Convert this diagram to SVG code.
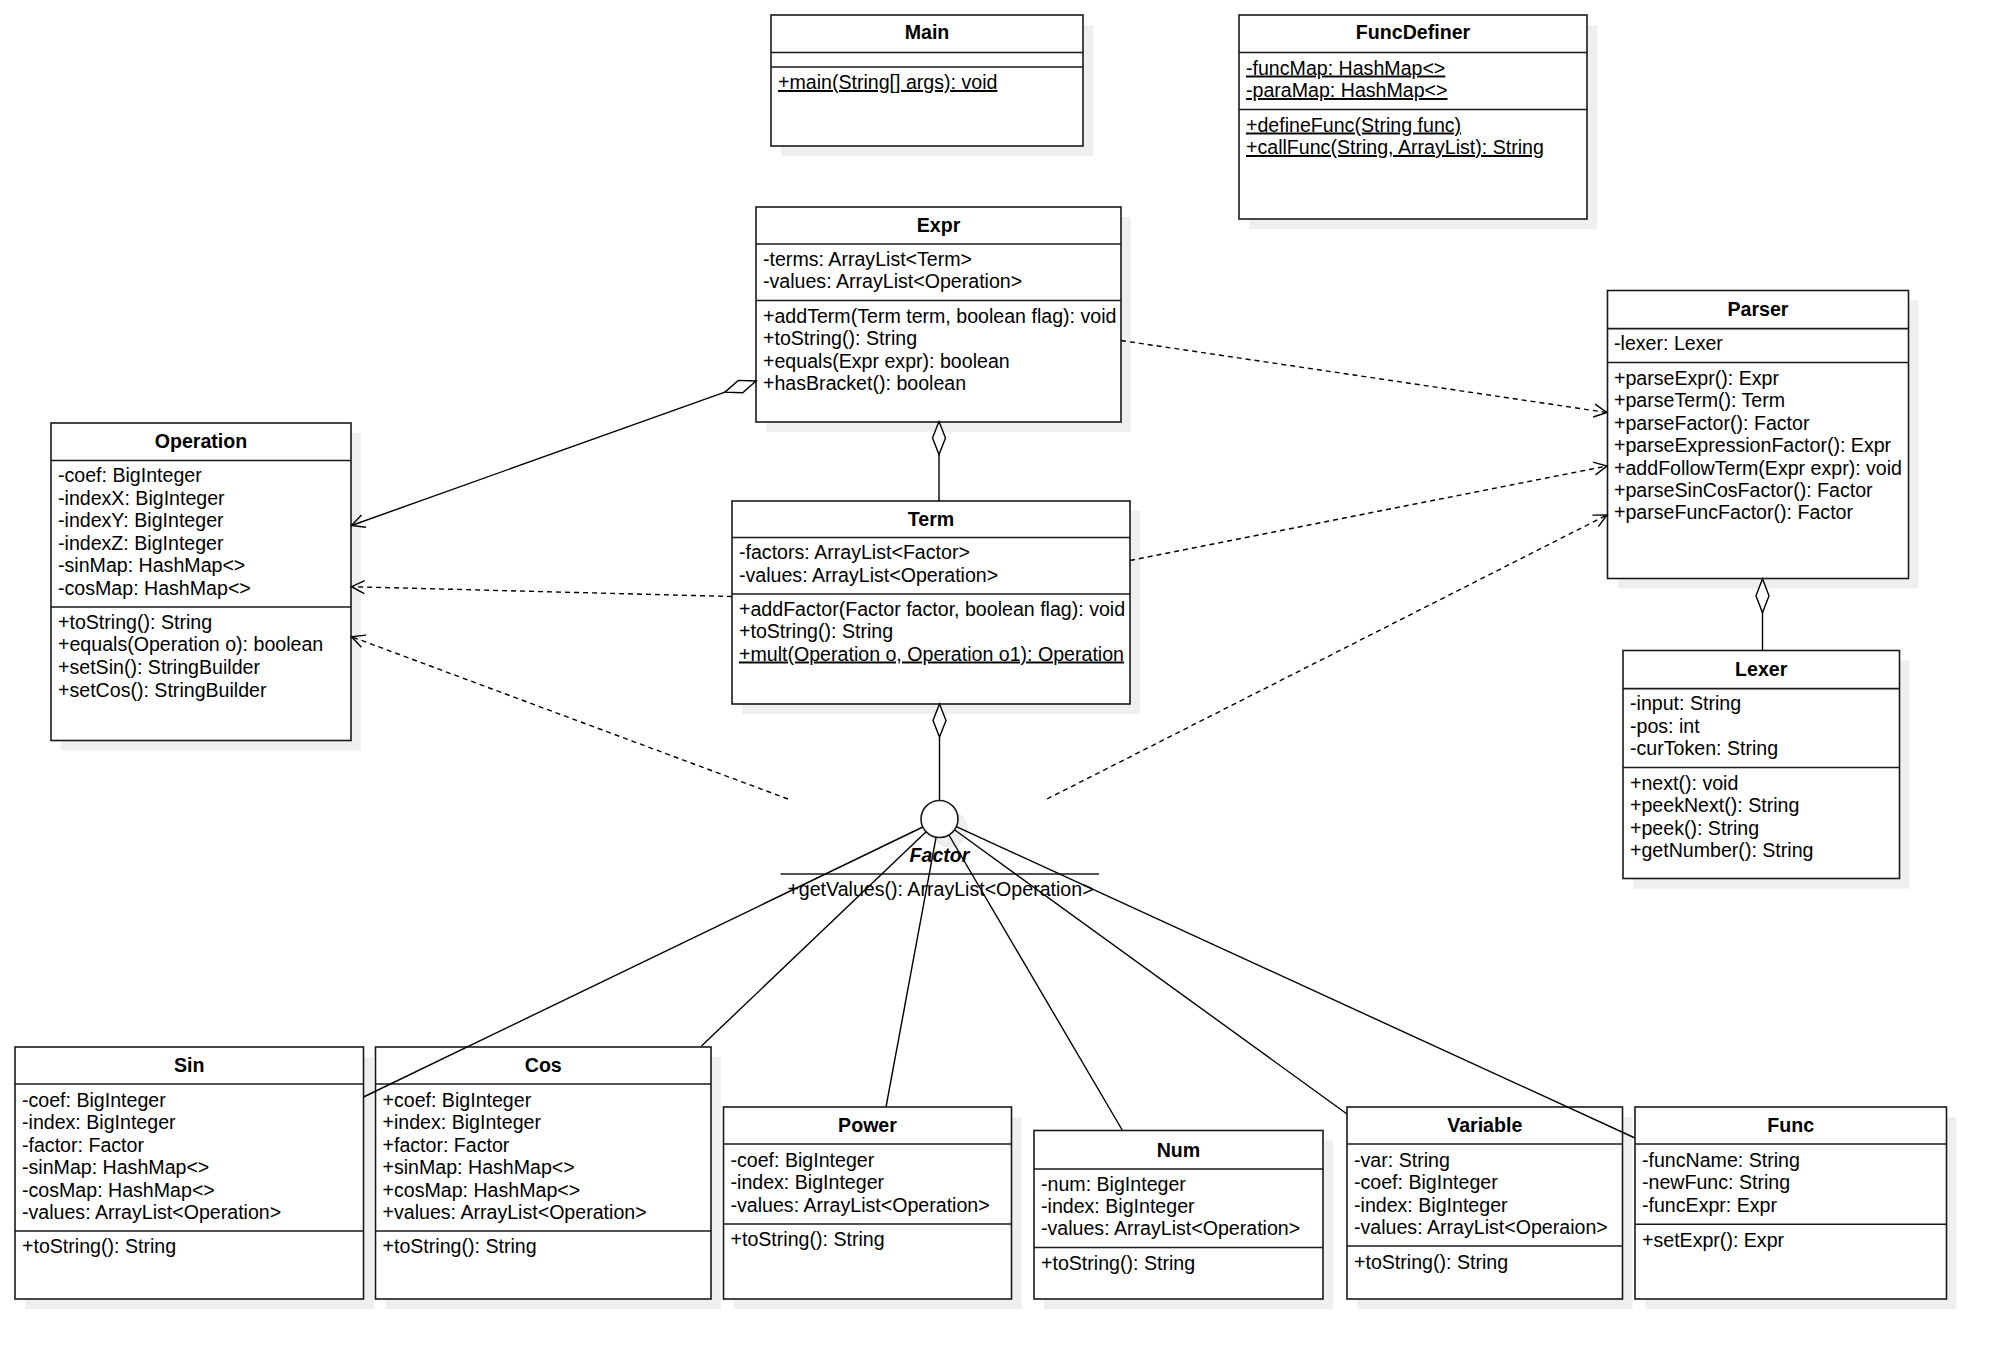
<svg xmlns="http://www.w3.org/2000/svg" width="2007" height="1359" viewBox="0 0 2007 1359">
<style>
.bg{fill:#fff}
.sh{fill:#efefef}
.box{fill:#fff;stroke:#1a1a1a;stroke-width:1.6}
.sep{fill:none;stroke:#1a1a1a;stroke-width:1.6}
.t{font-family:"Liberation Sans",Arial,sans-serif;font-size:19.6px;fill:#000}
.h{font-weight:bold;text-anchor:middle}
.u{text-decoration:underline;text-decoration-skip-ink:none}
.c{fill:none;stroke:#000;stroke-width:1.4}
.d{stroke-dasharray:5 4}
.dm{fill:#fff;stroke:#000;stroke-width:1.4}
</style>
<defs>
<marker id="open" viewBox="-15 -9 17 18" refX="0" refY="0" markerWidth="17" markerHeight="18" orient="auto" markerUnits="userSpaceOnUse">
<path d="M-13,-6.5 L0,0 L-13,6.5" fill="none" stroke="#000" stroke-width="1.4" stroke-dasharray="none"/>
</marker>
</defs>
<rect class="bg" x="0" y="0" width="2007" height="1359"/>

<g id="Main">
<rect class="sh" x="781" y="25" width="312" height="131"/>
<rect class="box" x="771" y="15" width="312" height="131"/>
<path class="sep" d="M771 52.5H1083M771 67H1083"/>
<text class="t h" x="927" y="39">Main</text>
<text class="t u" x="778" y="89">+main(String[] args): void</text>
</g>

<g id="FuncDefiner">
<rect class="sh" x="1249" y="25" width="348" height="204"/>
<rect class="box" x="1239" y="15" width="348" height="204"/>
<path class="sep" d="M1239 52.5H1587M1239 109.5H1587"/>
<text class="t h" x="1413" y="39">FuncDefiner</text>
<text class="t u" x="1246" y="74.5">-funcMap: HashMap&lt;&gt;</text>
<text class="t u" x="1246" y="97">-paraMap: HashMap&lt;&gt;</text>
<text class="t u" x="1246" y="131.5">+defineFunc(String func)</text>
<text class="t u" x="1246" y="154">+callFunc(String, ArrayList): String</text>
</g>

<g id="Expr">
<rect class="sh" x="766" y="217" width="365" height="215"/>
<rect class="box" x="756" y="207" width="365" height="215"/>
<path class="sep" d="M756 244H1121M756 300.5H1121"/>
<text class="t h" x="938.5" y="232">Expr</text>
<text class="t" x="763" y="265.5">-terms: ArrayList&lt;Term&gt;</text>
<text class="t" x="763" y="288">-values: ArrayList&lt;Operation&gt;</text>
<text class="t" x="763" y="322.5">+addTerm(Term term, boolean flag): void</text>
<text class="t" x="763" y="345">+toString(): String</text>
<text class="t" x="763" y="367.5">+equals(Expr expr): boolean</text>
<text class="t" x="763" y="390">+hasBracket(): boolean</text>
</g>

<g id="Operation">
<rect class="sh" x="61" y="433" width="300" height="317.5"/>
<rect class="box" x="51" y="423" width="300" height="317.5"/>
<path class="sep" d="M51 460.5H351M51 607H351"/>
<text class="t h" x="201" y="448">Operation</text>
<text class="t" x="58" y="482">-coef: BigInteger</text>
<text class="t" x="58" y="504.6">-indexX: BigInteger</text>
<text class="t" x="58" y="527.2">-indexY: BigInteger</text>
<text class="t" x="58" y="549.8">-indexZ: BigInteger</text>
<text class="t" x="58" y="572.4">-sinMap: HashMap&lt;&gt;</text>
<text class="t" x="58" y="595">-cosMap: HashMap&lt;&gt;</text>
<text class="t" x="58" y="628.7">+toString(): String</text>
<text class="t" x="58" y="651.3">+equals(Operation o): boolean</text>
<text class="t" x="58" y="673.9">+setSin(): StringBuilder</text>
<text class="t" x="58" y="696.5">+setCos(): StringBuilder</text>
</g>

<g id="Term">
<rect class="sh" x="742" y="511" width="398" height="203"/>
<rect class="box" x="732" y="501" width="398" height="203"/>
<path class="sep" d="M732 537.5H1130M732 594H1130"/>
<text class="t h" x="931" y="525.5">Term</text>
<text class="t" x="739" y="559">-factors: ArrayList&lt;Factor&gt;</text>
<text class="t" x="739" y="581.5">-values: ArrayList&lt;Operation&gt;</text>
<text class="t" x="739" y="615.5">+addFactor(Factor factor, boolean flag): void</text>
<text class="t" x="739" y="638">+toString(): String</text>
<text class="t u" x="739" y="660.5">+mult(Operation o, Operation o1): Operation</text>
</g>

<g id="Parser">
<rect class="sh" x="1617.5" y="300.5" width="301" height="288"/>
<rect class="box" x="1607.5" y="290.5" width="301" height="288"/>
<path class="sep" d="M1607.5 328.6H1908.5M1607.5 362.5H1908.5"/>
<text class="t h" x="1758" y="316">Parser</text>
<text class="t" x="1614" y="350">-lexer: Lexer</text>
<text class="t" x="1614" y="385">+parseExpr(): Expr</text>
<text class="t" x="1614" y="407.4">+parseTerm(): Term</text>
<text class="t" x="1614" y="429.8">+parseFactor(): Factor</text>
<text class="t" x="1614" y="452.2">+parseExpressionFactor(): Expr</text>
<text class="t" x="1614" y="474.6">+addFollowTerm(Expr expr): void</text>
<text class="t" x="1614" y="497">+parseSinCosFactor(): Factor</text>
<text class="t" x="1614" y="519.4">+parseFuncFactor(): Factor</text>
</g>

<g id="Lexer">
<rect class="sh" x="1633" y="660.5" width="276.5" height="228"/>
<rect class="box" x="1623" y="650.5" width="276.5" height="228"/>
<path class="sep" d="M1623 688.6H1899.5M1623 767.5H1899.5"/>
<text class="t h" x="1761.25" y="676">Lexer</text>
<text class="t" x="1630" y="710">-input: String</text>
<text class="t" x="1630" y="732.5">-pos: int</text>
<text class="t" x="1630" y="755">-curToken: String</text>
<text class="t" x="1630" y="789.5">+next(): void</text>
<text class="t" x="1630" y="812">+peekNext(): String</text>
<text class="t" x="1630" y="834.5">+peek(): String</text>
<text class="t" x="1630" y="857">+getNumber(): String</text>
</g>

<g id="Factor">
<circle class="sh" cx="949.5" cy="829" r="18.5"/>
<circle class="box" cx="939.5" cy="819" r="18.5"/>
<text class="t h" x="939.5" y="862" font-style="italic">Factor</text>
<path class="sep" d="M780.5 874H1099"/>
<text class="t" x="940.5" y="896" text-anchor="middle">+getValues(): ArrayList&lt;Operation&gt;</text>
</g>

<g id="Sin">
<rect class="sh" x="25" y="1057" width="348.5" height="252"/>
<rect class="box" x="15" y="1047" width="348.5" height="252"/>
<path class="sep" d="M15 1084H363.5M15 1231H363.5"/>
<text class="t h" x="189.25" y="1072">Sin</text>
<text class="t" x="22" y="1106.5">-coef: BigInteger</text>
<text class="t" x="22" y="1129">-index: BigInteger</text>
<text class="t" x="22" y="1151.5">-factor: Factor</text>
<text class="t" x="22" y="1174">-sinMap: HashMap&lt;&gt;</text>
<text class="t" x="22" y="1196.5">-cosMap: HashMap&lt;&gt;</text>
<text class="t" x="22" y="1219">-values: ArrayList&lt;Operation&gt;</text>
<text class="t" x="22" y="1253">+toString(): String</text>
</g>

<g id="Cos">
<rect class="sh" x="385.5" y="1057" width="335.5" height="252"/>
<rect class="box" x="375.5" y="1047" width="335.5" height="252"/>
<path class="sep" d="M375.5 1084H711M375.5 1231H711"/>
<text class="t h" x="543.25" y="1072">Cos</text>
<text class="t" x="382.5" y="1106.5">+coef: BigInteger</text>
<text class="t" x="382.5" y="1129">+index: BigInteger</text>
<text class="t" x="382.5" y="1151.5">+factor: Factor</text>
<text class="t" x="382.5" y="1174">+sinMap: HashMap&lt;&gt;</text>
<text class="t" x="382.5" y="1196.5">+cosMap: HashMap&lt;&gt;</text>
<text class="t" x="382.5" y="1219">+values: ArrayList&lt;Operation&gt;</text>
<text class="t" x="382.5" y="1253">+toString(): String</text>
</g>

<g id="Power">
<rect class="sh" x="733.5" y="1117" width="288" height="192"/>
<rect class="box" x="723.5" y="1107" width="288" height="192"/>
<path class="sep" d="M723.5 1144H1011.5M723.5 1224H1011.5"/>
<text class="t h" x="867.5" y="1132">Power</text>
<text class="t" x="730.5" y="1166.5">-coef: BigInteger</text>
<text class="t" x="730.5" y="1189">-index: BigInteger</text>
<text class="t" x="730.5" y="1211.5">-values: ArrayList&lt;Operation&gt;</text>
<text class="t" x="730.5" y="1246">+toString(): String</text>
</g>

<g id="Num">
<rect class="sh" x="1044" y="1140.5" width="289" height="168.5"/>
<rect class="box" x="1034" y="1130.5" width="289" height="168.5"/>
<path class="sep" d="M1034 1169H1323M1034 1247.5H1323"/>
<text class="t h" x="1178.5" y="1156.5">Num</text>
<text class="t" x="1041" y="1191">-num: BigInteger</text>
<text class="t" x="1041" y="1213">-index: BigInteger</text>
<text class="t" x="1041" y="1235">-values: ArrayList&lt;Operation&gt;</text>
<text class="t" x="1041" y="1270">+toString(): String</text>
</g>

<g id="Variable">
<rect class="sh" x="1357" y="1117" width="275.5" height="192"/>
<rect class="box" x="1347" y="1107" width="275.5" height="192"/>
<path class="sep" d="M1347 1144H1622.5M1347 1246H1622.5"/>
<text class="t h" x="1484.75" y="1132">Variable</text>
<text class="t" x="1354" y="1166.5">-var: String</text>
<text class="t" x="1354" y="1189">-coef: BigInteger</text>
<text class="t" x="1354" y="1211.5">-index: BigInteger</text>
<text class="t" x="1354" y="1234">-values: ArrayList&lt;Operaion&gt;</text>
<text class="t" x="1354" y="1268.5">+toString(): String</text>
</g>

<g id="Func">
<rect class="sh" x="1645" y="1117" width="311.5" height="192"/>
<rect class="box" x="1635" y="1107" width="311.5" height="192"/>
<path class="sep" d="M1635 1144H1946.5M1635 1224.3H1946.5"/>
<text class="t h" x="1790.75" y="1132">Func</text>
<text class="t" x="1642" y="1166.5">-funcName: String</text>
<text class="t" x="1642" y="1189">-newFunc: String</text>
<text class="t" x="1642" y="1211.5">-funcExpr: Expr</text>
<text class="t" x="1642" y="1246.5">+setExpr(): Expr</text>
</g>

<g id="connectors">
<path class="c d" d="M1121 340.5L1607 412.5" marker-end="url(#open)"/>
<path class="c d" d="M1130 560.5L1607 466" marker-end="url(#open)"/>
<path class="c d" d="M1047 799L1607 515" marker-end="url(#open)"/>
<path class="c d" d="M732 596.5L351.5 586.7" marker-end="url(#open)"/>
<path class="c d" d="M788 799L351.5 636.7" marker-end="url(#open)"/>
<path class="c" d="M724.9 392.1L351.5 525.5" marker-end="url(#open)"/>
<polygon class="dm" points="756,381 742.7,392.7 724.9,392.1 738.3,380.4"/>
<polygon class="dm" points="939,421.6 945.5,438 939,454.6 932.5,438"/>
<path class="c" d="M939 454.6V501"/>
<polygon class="dm" points="939.5,704 946,720.5 939.5,737 933,720.5"/>
<path class="c" d="M939.5 737V800.5"/>
<polygon class="dm" points="1762.5,578.8 1769,595.7 1762.5,612.7 1756,595.7"/>
<path class="c" d="M1762.5 612.7V650.5"/>
<path class="c" d="M922.8 827L363.5 1097"/>
<path class="c" d="M926.1 831.8L701.5 1046"/>
<path class="c" d="M936.1 837.2L886 1107"/>
<path class="c" d="M948.9 835L1122.5 1130.5"/>
<path class="c" d="M954.5 829.8L1347 1114"/>
<path class="c" d="M956.3 826.7L1635 1138"/>
</g>
</svg>
